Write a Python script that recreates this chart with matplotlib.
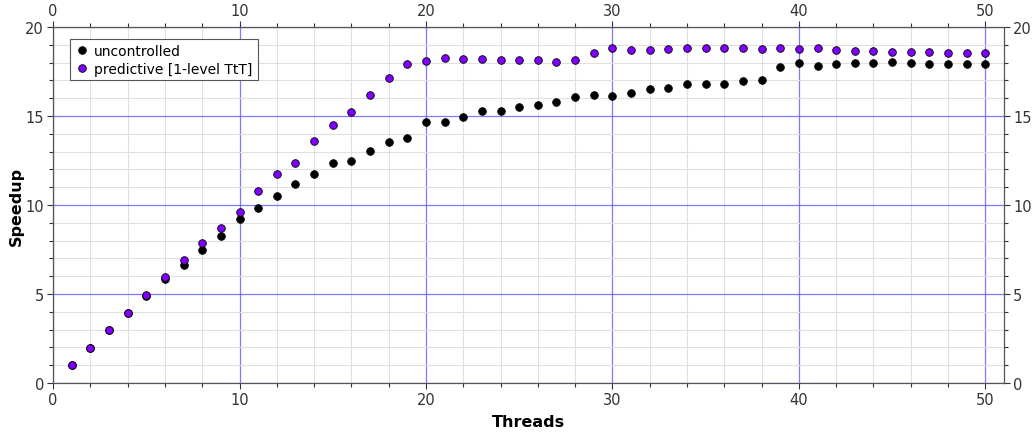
import numpy as np
import matplotlib.pyplot as plt
from matplotlib.ticker import MultipleLocator

# threads 1..50
threads = list(range(1, 51))

# speedup without control
uncontrolled = [1.00, 1.98, 2.97, 3.93, 4.88, 5.83, 6.64, 7.49, 8.26, 9.22,
                9.81, 10.50, 11.16, 11.74, 12.36, 12.45, 13.01, 13.56, 13.78, 14.64,
                14.66, 14.96, 15.26, 15.26, 15.49, 15.64, 15.81, 16.07, 16.19, 16.13,
                16.27, 16.54, 16.59, 16.78, 16.82, 16.82, 16.95, 17.00, 17.73, 17.96,
                17.83, 17.94, 17.96, 17.96, 18.03, 18.00, 17.92, 17.94, 17.94, 17.92]

# speedup with predictive control
predictive = [1.00, 1.98, 2.97, 3.95, 4.92, 5.94, 6.90, 7.85, 8.73, 9.62,
              10.79, 11.74, 12.38, 13.60, 14.47, 15.24, 16.16, 17.12, 17.90, 18.09,
              18.26, 18.20, 18.20, 18.15, 18.17, 18.15, 18.02, 18.15, 18.54, 18.80,
              18.69, 18.73, 18.76, 18.80, 18.80, 18.80, 18.80, 18.76, 18.80, 18.76,
              18.82, 18.69, 18.67, 18.63, 18.61, 18.61, 18.58, 18.54, 18.54, 18.54]

plt.rcParams['font.family'] = 'DejaVu Sans'

fig = plt.figure(figsize=(10.34, 4.35), dpi=100)
ax = fig.add_axes([0.0513, 0.1172, 0.9197, 0.8184])

ax.plot(threads, uncontrolled, 'o', color='black', markersize=5.5,
        markeredgecolor='black', markeredgewidth=0.6, label='uncontrolled', zorder=3)
ax.plot(threads, predictive, 'o', color='#7f00ff', markersize=5.5,
        markeredgecolor='black', markeredgewidth=0.6, label='predictive [1-level TtT]', zorder=3)

ax.set_xlim(0, 51)
ax.set_ylim(0, 20)
ax.xaxis.set_major_locator(MultipleLocator(10))
ax.xaxis.set_minor_locator(MultipleLocator(2))
ax.yaxis.set_major_locator(MultipleLocator(5))
ax.yaxis.set_minor_locator(MultipleLocator(1))

ax.grid(which='minor', color='#e0e0e0', linewidth=0.8)
ax.grid(which='major', color='#5a5aff', linewidth=0.9, alpha=0.8)
ax.set_axisbelow(True)

ax.tick_params(which='both', top=True, right=True, labeltop=True, labelright=True,
               direction='out', labelsize=10.5, colors='#333333', pad=2.5)
ax.tick_params(which='major', length=4, width=0.8)
ax.tick_params(which='minor', length=3, width=0.8)
for sp in ax.spines.values():
    sp.set_color('#555555')
    sp.set_linewidth(0.9)

ax.set_xlabel('Threads', fontsize=11.5, fontweight='bold', labelpad=5)
ax.set_ylabel('Speedup', fontsize=11.5, fontweight='bold')
ax.yaxis.set_label_coords(-0.031, 0.5)

leg = ax.legend(loc='upper left', numpoints=1, fontsize=10, fancybox=False,
                framealpha=1, edgecolor='#555555', handletextpad=0.4,
                borderpad=0.35, labelspacing=0.25, handlelength=1.0,
                bbox_to_anchor=(0.0105, 0.985))
leg.get_frame().set_linewidth(0.8)

fig.savefig('out.png', dpi=100)
